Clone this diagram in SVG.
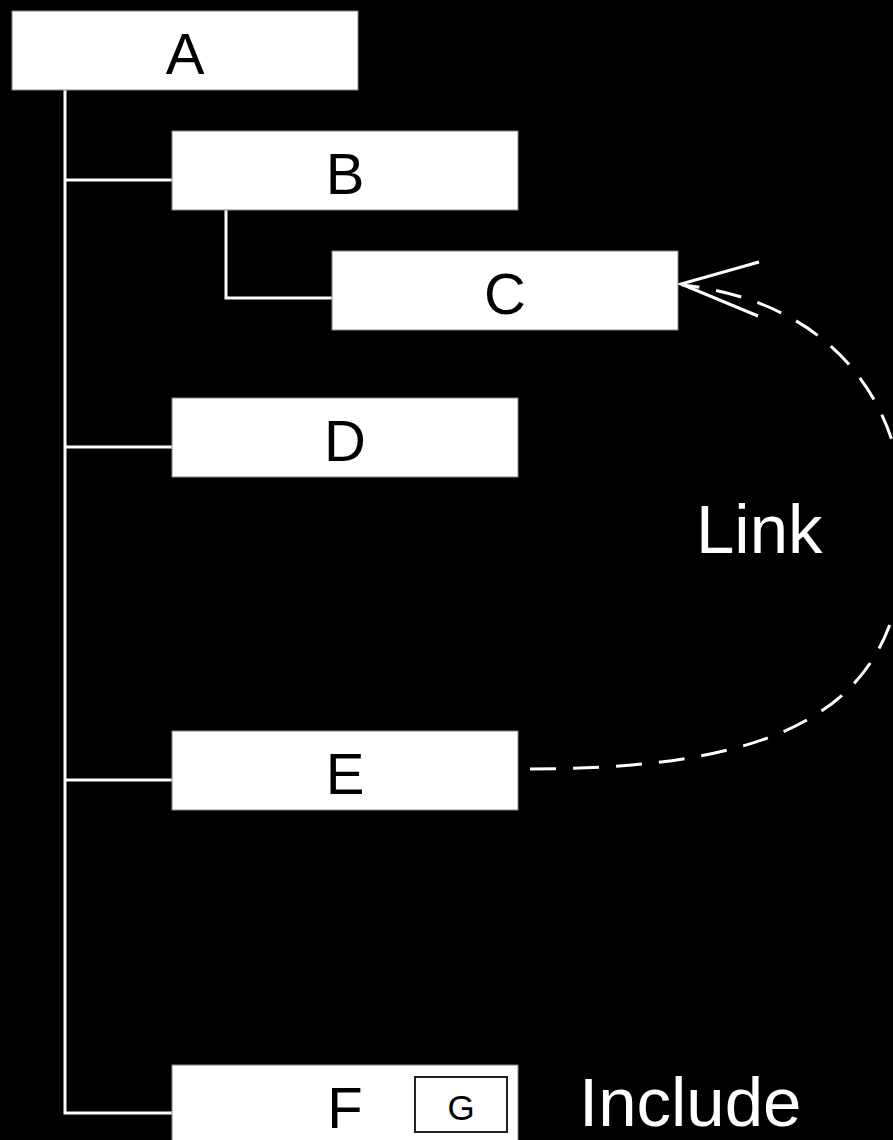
<svg xmlns="http://www.w3.org/2000/svg" width="893" height="1140" viewBox="0 0 893 1140">
<style>
.box{fill:#fff;stroke:#888;stroke-width:1}
.lbl{font-family:"Liberation Sans",Arial,sans-serif;font-size:58px;fill:#000;text-anchor:middle}
.tree{fill:none;stroke:#fff;stroke-width:3}
.link{fill:none;stroke:#fff;stroke-width:3;stroke-dasharray:26 17}
.note{font-family:"Liberation Sans",Arial,sans-serif;fill:#fff;font-size:69px}
</style>
<rect width="893" height="1140" fill="#000"/>
<g id="connectors">
<path class="tree" d="M65 90 V1113 H172 M65 180 H172 M65 447 H172 M65 780 H172 M226 210 V298 H332"/>
<path class="link" d="M530 769 C800 769 905 700 905 527 C905 390 820 300 682 285"/>
<path class="tree" d="M759 262 L681 284 L758 316"/>
</g>
<g id="A"><rect class="box" x="12" y="11" width="346" height="79"/><text class="lbl" x="185" y="74">A</text></g>
<g id="B"><rect class="box" x="172" y="131" width="346" height="79"/><text class="lbl" x="345" y="194">B</text></g>
<g id="C"><rect class="box" x="332" y="251" width="346" height="79"/><text class="lbl" x="505" y="314">C</text></g>
<g id="D"><rect class="box" x="172" y="398" width="346" height="79"/><text class="lbl" x="345" y="461">D</text></g>
<g id="E"><rect class="box" x="172" y="731" width="346" height="79"/><text class="lbl" x="345" y="794">E</text></g>
<g id="F"><rect class="box" x="172" y="1065" width="346" height="90"/><text class="lbl" x="345" y="1128">F</text></g>
<g id="G"><rect x="415" y="1077" width="92" height="55" fill="#fff" stroke="#222" stroke-width="2"/><text class="lbl" x="461" y="1120" style="font-size:35px">G</text></g>
<text class="note" x="696" y="553">Link</text>
<text class="note" x="579" y="1126">Include</text>
</svg>
